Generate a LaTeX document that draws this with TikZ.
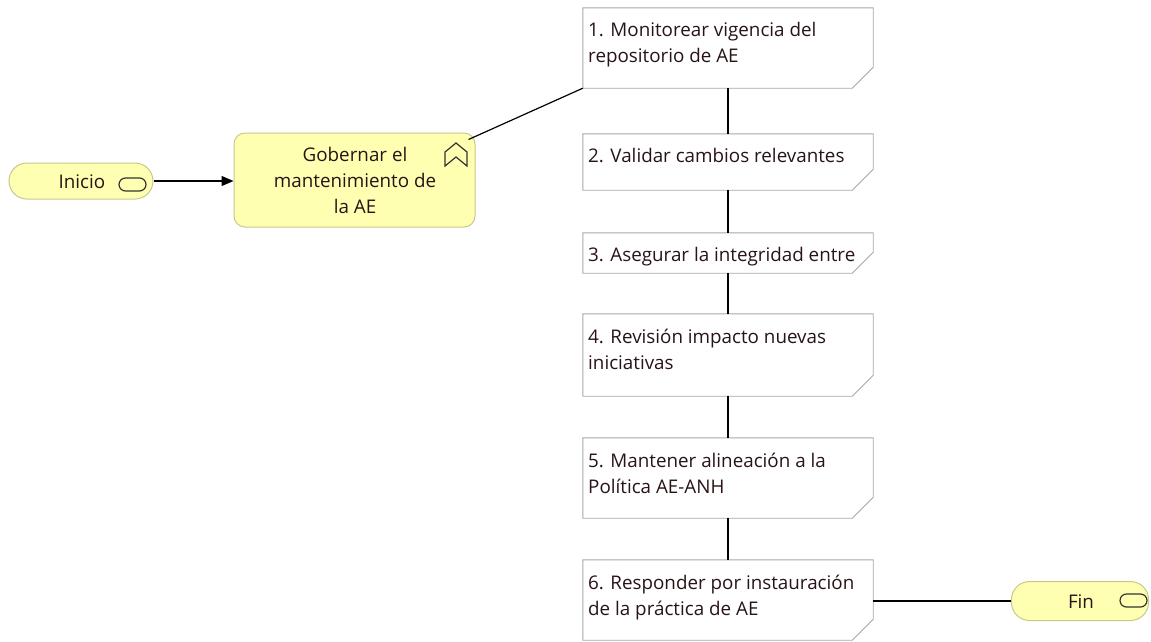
\documentclass[tikz,border=0pt]{standalone}
\usepackage{fontspec}
\setmainfont{Open Sans}
\usetikzlibrary{arrows.meta}
\definecolor{yfill}{RGB}{255,255,178}
\definecolor{yline}{RGB}{200,200,140}
\definecolor{nline}{RGB}{168,168,168}
\definecolor{txt}{RGB}{40,20,22}
\tikzset{
  x=1pt,y=-1pt,
  every node/.style={font=\fontsize{18.8}{26}\selectfont, text=txt},
  evt/.style={draw=yline, fill=yfill, rounded corners=18pt, line width=1pt, inner sep=0pt},
  task/.style={draw=yline, fill=yfill, rounded corners=11pt, line width=1pt, inner sep=0pt},
  notebg/.style={draw=none, inner sep=0pt, minimum width=290pt},
  noteline/.style={draw=nline, fill=white, line width=0.9pt},
  notetext/.style={anchor=north west, inner sep=0pt, align=left},
  conn/.style={draw=black, line width=1.2pt},
  icon/.style={draw=black!80, line width=1.2pt},
}
\newcommand{\notebox}[4]{%
  \node[notebg, minimum height=#3-#2 pt] (#1) at (728,{(#2+#3)/2}) {};
  \path[noteline] (#1.north west) -- (#1.north east) -- ([yshift=21pt]#1.south east)
     -- ([xshift=-21pt]#1.south east) -- (#1.south west) -- cycle;
  \node[notetext] (#1t) at (588,{#2+14.5}) {#4};
}
\begin{document}
\begin{tikzpicture}
\useasboundingbox (0,0) rectangle (1151,641);
% start
\node[evt, minimum width=144pt, minimum height=36pt] (ini) at (81,181) {};
\node (init) at (82,182) {Inicio};
\draw[icon, rounded corners=6.5pt] (119,178) rectangle (146,191);
% task
\node[task, minimum width=241pt, minimum height=94pt] (gob) at (354.5,180) {};
\node[align=center] (gobt) at (355,180) {Gobernar el\\mantenimiento de\\la AE};
\draw[icon, line join=miter] (445,152) -- (456,143) -- (467,152) -- (467,166) -- (456,157) -- (445,166) -- cycle;
% end
\node[evt, minimum width=137pt, minimum height=39pt] (fin) at (1080,601) {};
\node (fint) at (1081,602) {Fin};
\draw[icon, rounded corners=6.5pt] (1120,594) rectangle (1147,607);
% notes
\notebox{n1}{8}{88}{1. Monitorear vigencia del\\repositorio de AE}
\notebox{n2}{134}{190}{2. Validar cambios relevantes}
\notebox{n3}{233}{273}{3. Asegurar la integridad entre}
\notebox{n4}{314}{396}{4. Revisión impacto nuevas\\iniciativas}
\notebox{n5}{438}{518}{5. Mantener alineación a la\\Política AE-ANH}
\notebox{n6}{560}{640}{6. Responder por instauración\\de la práctica de AE}
% connectors
\draw[conn, -{Triangle[length=12pt,width=10pt]}] (ini.east) -- (ini.east -| gob.west);
\draw[conn] ([xshift=-7pt,yshift=-7pt]gob.north east) -- (n1.south west);
\draw[conn] (n1.south) -- (n2.north);
\draw[conn] (n2.south) -- (n3.north);
\draw[conn] (n3.south) -- (n4.north);
\draw[conn] (n4.south) -- (n5.north);
\draw[conn] (n5.south) -- (n6.north);
\draw[conn] (n6.east |- fin.west) -- (fin.west);
\end{tikzpicture}
\end{document}
